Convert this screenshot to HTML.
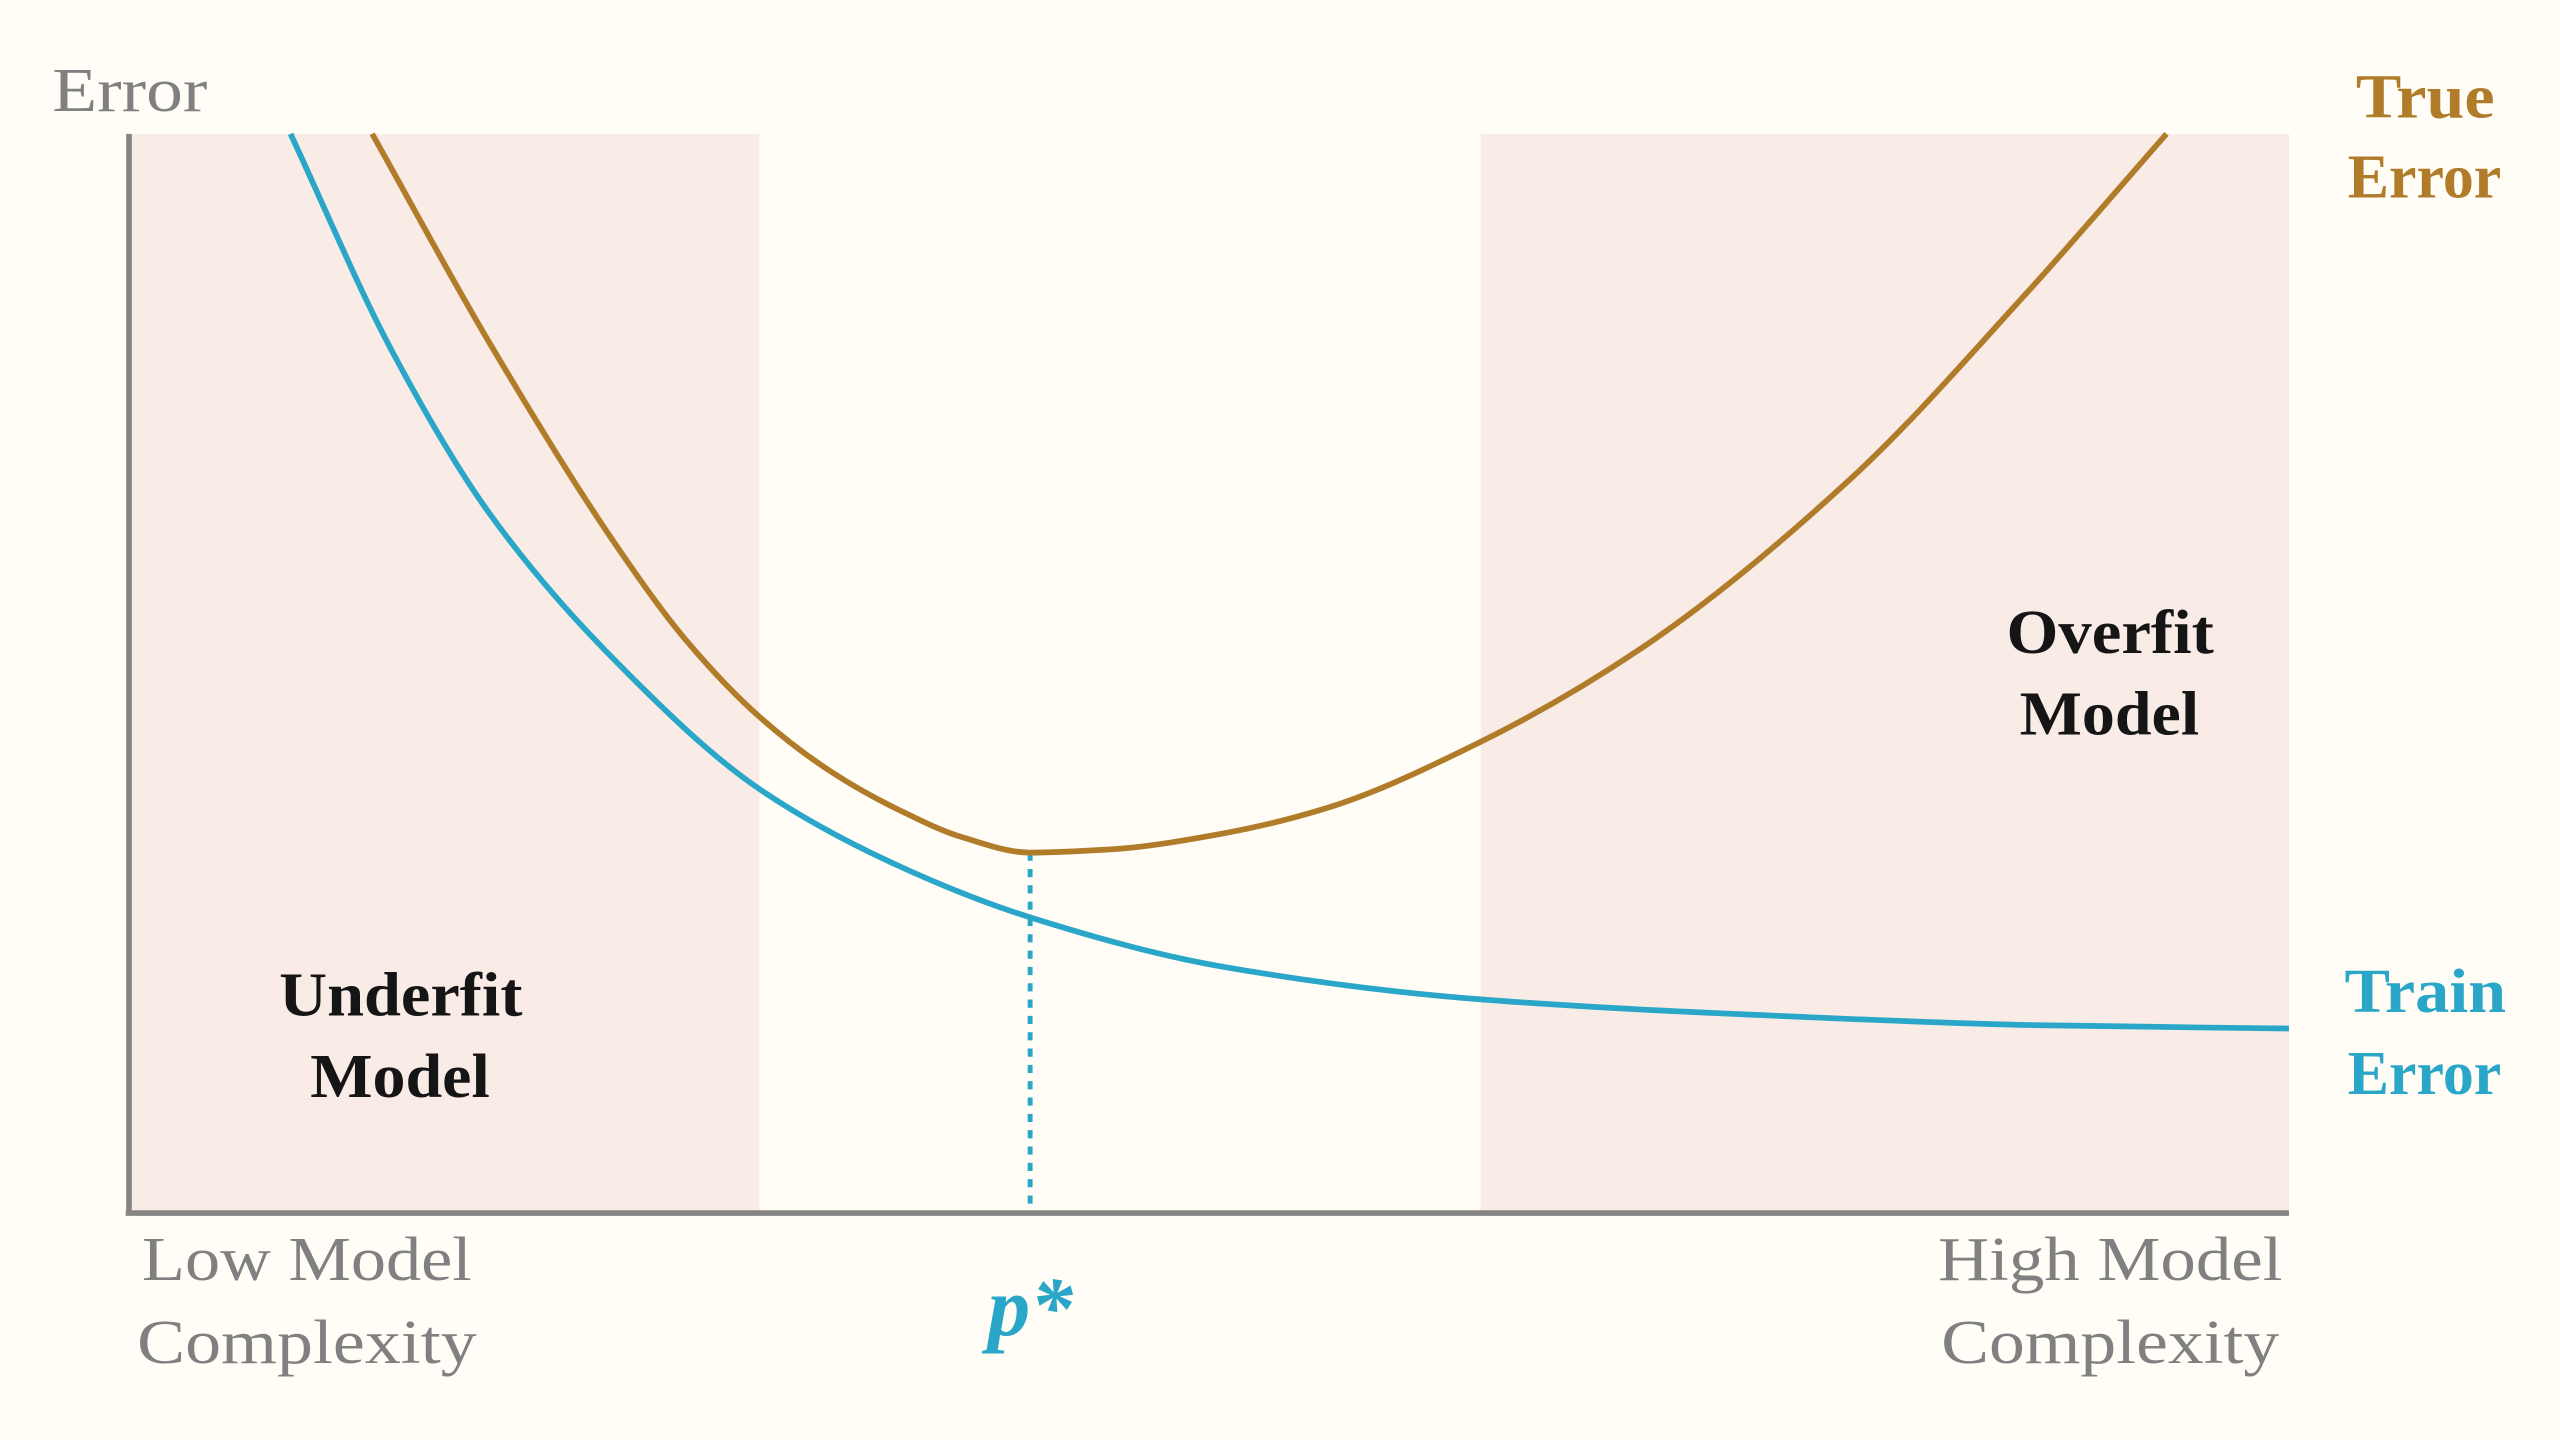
<!DOCTYPE html>
<html>
<head>
<meta charset="utf-8">
<style>
  html, body { margin: 0; padding: 0; background: #fffdf6; }
  svg { display: block; }
  text { font-family: "Liberation Serif", "DejaVu Serif", serif; }
</style>
</head>
<body>
<svg id="chart" width="2560" height="1440" viewBox="0 0 1568 882" xmlns="http://www.w3.org/2000/svg">
  <rect x="0" y="0" width="1568" height="882" fill="#fffdf6"/>
  <rect x="79" y="82" width="386" height="661" fill="#f9ece6"/>
  <rect x="907" y="82" width="495" height="661" fill="#f9ece6"/>
  <g id="marks"></g>
  <line x1="79" y1="82" x2="79" y2="744" stroke="#858585" stroke-width="3.5"/>
  <line x1="77" y1="743" x2="1402" y2="743" stroke="#858585" stroke-width="3.5"/>

  <text x="32" y="68" font-size="38" fill="#808080" textLength="95" lengthAdjust="spacingAndGlyphs">Error</text>

  <g font-size="38" fill="#b07c2a" font-weight="bold">
    <text x="1443" y="72" textLength="85" lengthAdjust="spacingAndGlyphs">True</text>
    <text x="1438" y="121" textLength="94" lengthAdjust="spacingAndGlyphs">Error</text>
  </g>
  <g font-size="38" fill="#2aa6c9" font-weight="bold">
    <text x="1436" y="620" textLength="99" lengthAdjust="spacingAndGlyphs">Train</text>
    <text x="1438" y="670" textLength="94" lengthAdjust="spacingAndGlyphs">Error</text>
  </g>
  <g font-size="38" fill="#151515" font-weight="bold">
    <text x="1229" y="400" textLength="127" lengthAdjust="spacingAndGlyphs">Overfit</text>
    <text x="1237" y="450" textLength="110" lengthAdjust="spacingAndGlyphs">Model</text>
  </g>
  <g font-size="38" fill="#151515" font-weight="bold">
    <text x="171" y="622" textLength="149" lengthAdjust="spacingAndGlyphs">Underfit</text>
    <text x="190" y="672" textLength="110" lengthAdjust="spacingAndGlyphs">Model</text>
  </g>
  <g font-size="38" fill="#808080">
    <text x="87" y="784" textLength="202" lengthAdjust="spacingAndGlyphs">Low Model</text>
    <text x="84" y="835" textLength="208" lengthAdjust="spacingAndGlyphs">Complexity</text>
  </g>
  <g font-size="38" fill="#808080">
    <text x="1187" y="784" textLength="211" lengthAdjust="spacingAndGlyphs">High Model</text>
    <text x="1189" y="835" textLength="207" lengthAdjust="spacingAndGlyphs">Complexity</text>
  </g>
  <text x="631" y="818" font-size="52" fill="#2aa6c9" text-anchor="middle" font-style="italic" font-weight="bold">p*</text>
</svg>
<script>
const complexity = [7.48, 12.17, 16.70, 22.75, 29.18, 35.60, 41.72, 50.72, 62.58, 77.17, 88.51, 100];
const trainError = [100, 79.9, 64.8, 50.7, 39.3, 32.2, 27.4, 22.8, 19.8, 18.2, 17.4, 17.1];
const trueComplexity = [11.26, 16.70, 22.75, 25.78, 29.18, 32.58, 35.60, 38.62, 41.72, 45.43, 50.72, 55.40, 62.51, 69.99, 79.74, 87.83, 94.33];
const trueError = [100, 80.6, 61.3, 53.1, 46.0, 40.8, 37.4, 34.8, 33.4, 33.7, 35.2, 37.5, 43.6, 52.3, 68.1, 85.2, 100];
const optimum = [41.72, 33.4];

function sx(v) { return 79 + v / 100 * 1323; }
function sy(v) { return 743 - v / 100 * 661; }

// monotone cubic (Fritsch-Carlson) interpolation in pixel space
function path(xs, ys) {
  const X = xs.map(sx), Y = ys.map(sy), n = X.length;
  const d = [], m = [];
  for (let i = 0; i < n - 1; i++) d.push((Y[i + 1] - Y[i]) / (X[i + 1] - X[i]));
  m[0] = d[0]; m[n - 1] = d[n - 2];
  for (let i = 1; i < n - 1; i++) {
    if (d[i - 1] * d[i] <= 0) m[i] = 0;
    else {
      const h0 = X[i] - X[i - 1], h1 = X[i + 1] - X[i];
      const w1 = 2 * h1 + h0, w2 = h1 + 2 * h0;
      m[i] = (w1 + w2) / (w1 / d[i - 1] + w2 / d[i]);
    }
  }
  let s = 'M' + X[0] + ',' + Y[0];
  for (let i = 0; i < n - 1; i++) {
    const h = (X[i + 1] - X[i]) / 3;
    s += ' C' + (X[i] + h) + ',' + (Y[i] + m[i] * h) + ' ' + (X[i + 1] - h) + ',' + (Y[i + 1] - m[i + 1] * h) + ' ' + X[i + 1] + ',' + Y[i + 1];
  }
  return s;
}

const NS = 'http://www.w3.org/2000/svg';
const g = document.getElementById('marks');

const dash = document.createElementNS(NS, 'line');
dash.setAttribute('x1', sx(optimum[0]));
dash.setAttribute('x2', sx(optimum[0]));
dash.setAttribute('y1', sy(optimum[1]));
dash.setAttribute('y2', sy(0));
dash.setAttribute('stroke', '#2aa6c9');
dash.setAttribute('stroke-width', '3');
dash.setAttribute('stroke-dasharray', '5,5');


g.appendChild(dash);

const train = document.createElementNS(NS, 'path');
train.setAttribute('d', path(complexity, trainError));
train.setAttribute('fill', 'none');
train.setAttribute('stroke', '#2aa6c9');
train.setAttribute('stroke-width', '3.5');


g.appendChild(train);

const tru = document.createElementNS(NS, 'path');
tru.setAttribute('d', path(trueComplexity, trueError));
tru.setAttribute('fill', 'none');
tru.setAttribute('stroke', '#b07c2a');
tru.setAttribute('stroke-width', '3.5');


g.appendChild(tru);
</script>
</body>
</html>
